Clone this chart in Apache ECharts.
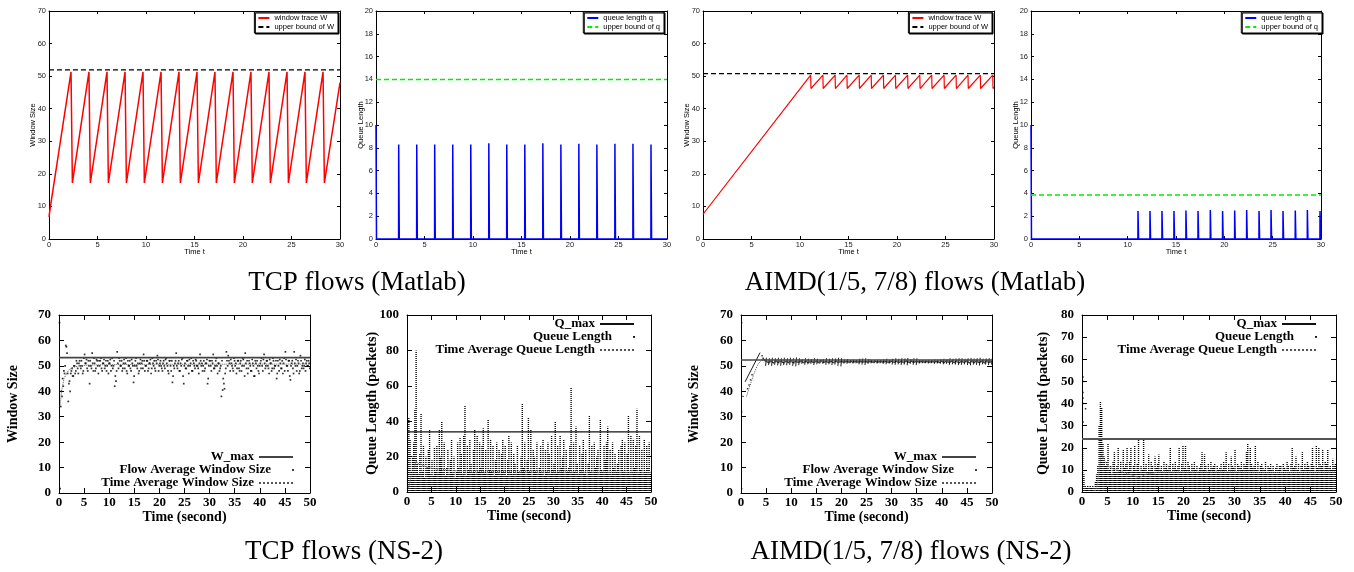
<!DOCTYPE html>
<html><head><meta charset="utf-8">
<script src="https://cdn.jsdelivr.net/npm/echarts@6/dist/echarts.min.js"></script>
<style>html,body{margin:0;padding:0;background:#fff}#c{width:1354px;height:572px}</style>
</head><body><div id="c"></div>
<script>
// ================= DATA =================
// axis ranges [min, max, interval]
const matlabTimeRange = [0, 30, 5];
const matlabWRange = [0, 70, 10];
const matlabQRange = [0, 20, 2];
const nsTimeRange = [0, 50, 5];
const nsWRange = [0, 70, 10];
const nsTcpQRange = [0, 100, 20];
const nsAimdQRange = [0, 80, 10];

const captions = ['TCP flows (Matlab)', 'AIMD(1/5, 7/8) flows (Matlab)', 'TCP flows (NS-2)', 'AIMD(1/5, 7/8) flows (NS-2)'];

// --- Panel 1: TCP Matlab window ---
const matlabTcpWStart = [[0, 6.8], [0.15, 10]];
const matlabTcpWPeakT = [2.27, 4.12, 5.98, 7.84, 9.69, 11.55, 13.40, 15.26, 17.11, 18.97, 20.82, 22.68, 24.54, 26.39, 28.25];
const matlabTcpWTroughT = [2.41, 4.26, 6.12, 7.98, 9.83, 11.69, 13.54, 15.40, 17.25, 19.11, 20.96, 22.82, 24.68, 26.53, 28.39];
const matlabTcpWPeak = 51.3, matlabTcpWTrough = 17.2;
const matlabTcpWEnd = [30, 48];
const matlabTcpWBound = 51.9;

// --- Panel 2: TCP Matlab queue ---
const matlabTcpQStart = 10;
const matlabTcpQSpikeT = [2.34, 4.20, 6.05, 7.91, 9.77, 11.63, 13.48, 15.34, 17.20, 19.06, 20.91, 22.77, 24.63, 26.49, 28.35];
const matlabTcpQSpikeV = [8.3, 8.3, 8.3, 8.3, 8.3, 8.4, 8.3, 8.3, 8.4, 8.3, 8.35, 8.3, 8.35, 8.35, 8.3];
const matlabTcpQBound = 14;

// --- Panel 3: AIMD Matlab window ---
const matlabAimdWStart = [[0, 7.6]];
const matlabAimdWPeakT = [11.10, 12.36, 13.62, 14.84, 16.10, 17.34, 18.60, 19.84, 21.10, 22.35, 23.58, 24.85, 26.09, 27.32, 28.59, 29.87];
const matlabAimdWTroughT = [11.13, 12.39, 13.65, 14.87, 16.13, 17.37, 18.63, 19.87, 21.13, 22.38, 23.61, 24.88, 26.12, 27.35, 28.62, 29.90];
const matlabAimdWPeak = 50.3, matlabAimdWTrough = 46.2;
const matlabAimdWEnd = [30, 46.6];
const matlabAimdWBound = 50.8;

// --- Panel 4: AIMD Matlab queue ---
const matlabAimdQStart = 10;
const matlabAimdQSpikeT = [11.07, 12.31, 13.55, 14.79, 16.03, 17.28, 18.55, 19.82, 21.07, 22.31, 23.59, 24.83, 26.07, 27.34, 28.59, 29.90];
const matlabAimdQSpikeV = [2.45, 2.45, 2.45, 2.45, 2.5, 2.45, 2.55, 2.45, 2.5, 2.55, 2.45, 2.55, 2.45, 2.5, 2.55, 2.45];
const matlabAimdQBound = 3.85;

// --- Panel 5: TCP NS-2 window (samples every 0.25 s, two interleaved sets) ---
const nsSampleStep = 0.25;
const tcpWa = [67,34,38,42, 47,58,55,36, 44,47,49,46, 50,48,51,47, 52,49,50,48, 54.5,51,49,52, 43,50,55,48, 51,49,52,47, 50,53,48,51, 49,52,50,47,
  51,48,53,50, 42,44,55.5,49, 52,50,48,51, 49,53,47,50, 52,48,51,43.5, 50,53,49,47, 51,49,52,54.5, 48,50,52,49, 51,47,53,50, 49,52,54,48,
  51,50,48,52, 49,53,50,47, 52,48,43.5,50, 51,55,49,52, 48,50,53,43, 51,49,52,47, 50,53,48,51, 49,52,50,47, 54.5,50,48,52, 49,51,43,50,
  52,48,51,49, 50,53,47,51, 49,38,40.5,43, 47,55.5,50,52, 48,51,49,53, 50,47,52,49, 51,48,53,50, 55,49,47,52, 50,48,51,46, 52,49,50,47,
  51,53,48,54.5, 49,52,50,47, 51,48,53,49, 50,45,52,48, 51,49,47,53, 55.5,50,48,52, 44.5,51,49,55.5, 50,48,52,47, 54,49,51,50, 48,52,50,51];
const tcpWb = [1.7,40,45,48, 50,57.5,47,43, 40,48,46,50, 47,52,49,51, 50,52,47,53, 51,52.5,48,50, 52,49,51,53, 48,52.5,50,52, 52,49,51,52.5, 50,48,52,51,
  52.5,50,49,52, 46,48,51,53, 50,52,49,52.5, 51,48,52,50, 49,52.5,50,46, 52,50,51,48, 52.5,51,49,52, 50,52,48,51, 52.5,49,51,52, 48,51,52.5,50,
  52,49,51,50, 52.5,51,48,52, 50,52,46,49, 52,50,51,48, 51,52.5,46,50, 49,52,50,52.5, 51,48,52,50, 52.5,50,49,51, 52,51,50,48, 51,52.5,45,52,
  50,52,54.5,49, 52,50,51,48, 50,52,45,41, 49,52,54,51, 52.5,50,48,52, 51,49,52,48, 52,50,52.5,46, 51,52,49,51, 48,52.5,50,46, 51,52,48,50,
  52,50,52.5,51, 50,52,49,52.5, 51,49,52,50, 52,47,50,52.5, 49,52,51,48, 52.5,50,52,46, 50,52,47,51, 52.5,50,51,48, 52,50,49,52.5, 51,50,52,49];
const tcpWOffsetA = 0.1, tcpWOffsetB = 0.22;
const tcpWMax = 53.2;
const tcpWTimeAvg = [[0.2,34],[0.5,40],[1,45],[1.5,47],[2,48.5],[3,49.5],[4,50],[6,50.3],[10,50.5],[20,50.6],[50,50.7]];

// --- Panel 6: TCP NS-2 queue (column heights every 0.25 s) ---
const tcpQHeights = [18,42,30,12, 20,28,47,80, 16,10,22,44, 12,26,8,20, 14,24,35,10, 18,9,25,12, 26,11,35,20, 40,12,28,9, 14,24,10,18, 30,11,20,8,
  12,28,14,31, 22,10,32,49, 9,26,13,30, 16,11,24,35, 10,32,12,28, 14,26,36,11, 24,10,41,13, 30,12,26,9, 18,28,11,24, 10,22,30,12,
  26,9,18,32, 12,28,10,22, 16,10,26,12, 11,20,50,14, 28,10,18,42, 12,35,9,24, 20,12,28,10, 14,26,11,30, 9,24,12,28, 22,10,32,13,
  16,40,11,26, 12,32,14,20, 30,10,24,12, 14,26,59,11, 28,12,37,16, 10,26,13,22, 30,11,24,9, 16,43,12,26, 11,28,14,20, 24,10,41,13,
  12,26,18,28, 37,11,24,10, 28,14,22,12, 16,24,10,26, 30,12,28,11, 22,43,10,32, 12,30,14,26, 47,11,32,13, 24,10,30,12, 26,14,28,11];
const tcpQMax = 34;
const tcpQTimeAvg = [[0.3,2],[0.8,8],[1.4,13],[1.9,17.5],[2.2,16],[2.5,17],[3,15.5],[4,14],[6,13],[10,12],[20,11.5],[50,11]];

// --- Panel 7: AIMD NS-2 window ---
const aimdWPoints = [[0.13,67],[0.13,1.7],[0.13,32],[0.4,38],[1.3,41],[1.6,42.5],[1.9,44.5],[2.2,46.5],[4.2,54],[4.4,53]];
const aimdWBaseStart = 4.5;
const aimdWBase = [52.6,52.2,51.8,51.5,51.3,51.6,51.9,51.4,51.2,51.6,51.9,51.5,51.3,51.7,51.9,51.4,51.2,51.6,51.8,51.5,
  51.3,51.7,51.9,51.4,51.2,51.6,51.8,51.5,51.4,51.7,51.9,51.5,51.3,51.6,51.8,51.4,51.3,51.6,51.8,51.5,
  51.4,51.6,51.8,51.5,51.3,51.7,51.9,51.5,51.4,51.6,51.8,51.5,51.4,51.6,51.8,51.4,51.3,51.7,51.9,51.5,
  51.5,51.6,51.7,51.6,51.5,51.6,51.7,51.6,51.5,51.6,51.7,51.5,51.6,51.7,51.6,51.5,51.6,51.7,51.6,51.5,
  51.6,51.7,51.6,51.5,51.6,51.7,51.6,51.5,51.6,51.7,51.6,51.5,51.6,51.7,51.6,51.5,51.6,51.7,51.6,51.5,
  51.4,51.6,51.8,51.5,51.4,51.7,51.8,51.5,51.4,51.6,51.8,51.5,51.3,51.7,51.9,51.5,51.4,51.6,51.8,51.5,
  51.5,51.6,51.7,51.6,51.5,51.6,51.7,51.6,51.5,51.6,51.7,51.6,51.5,51.6,51.7,51.6,51.5,51.6,51.7,51.6,
  51.4,51.6,51.8,51.5,51.3,51.7,51.9,51.5,51.4,51.6,51.8,51.5,51.3,51.7,51.9,51.4,51.3,51.6,51.8,51.5,
  51.3,51.7,51.9,51.4,51.2,51.6,51.9,51.5,51.3,51.7,51.9,51.4,51.3,51.6,51.8,51.5,51.2,51.7,51.9,51.4,
  51.5,51.6];
// window rises: [start t, start W, end t, end W]
const aimdWRamp = [[0.8,43.7,3.8,55.2]];
// short sawtooth strokes: [t, low, high]
const aimdWStrokes = [[4.9,50,53.2],[5.5,50.3,53],[6.1,50,53.2],[6.7,50.4,53],[7.3,50.2,53.2],[7.9,50,53],[8.5,50.3,53.2],[9.1,50.2,53],[9.7,50.4,53.2],[10.3,50,53],
  [10.9,49.8,53.3],[11.5,50.3,53],[12.1,50.8,52.6],[12.7,50.4,53],[13.3,50.6,52.8],[13.9,50.8,52.6],[14.5,50.3,53],[15.1,50.6,52.8],[15.7,50.9,52.4],[16.3,50.8,52.6],
  [16.9,50.4,53],[17.5,50.6,52.8],[18.1,50.3,53],[18.7,50.5,52.9],[19.3,50,53.2],[19.9,49.8,53],[20.5,50.9,52.5],[21.1,50.8,52.6],[21.7,51,52.3],[22.3,50.9,52.4],
  [22.9,51,52.3],[23.5,50.6,52.8],[24.1,50.5,52.9],[24.7,50.3,53],[25.3,50.8,52.6],[25.9,51,52.3],[26.5,51,52.3],[27.1,50.9,52.4],[27.7,51,52.3],[28.3,50.8,52.5],
  [28.9,50.6,52.8],[29.5,50.9,52.4],[30.1,50.5,52.8],[30.7,50.4,53],[31.3,50.6,52.8],[31.9,50.3,53],[32.5,50.5,52.9],[33.1,50.2,53.1],[33.7,50.8,52.6],[34.3,50.4,53],
  [34.9,50.3,53],[35.5,50.9,52.4],[36.1,51,52.3],[36.7,51,52.3],[37.3,50.9,52.4],[37.9,51,52.3],[38.5,50.8,52.5],[39.1,50.9,52.4],[39.7,50.8,52.6],[40.3,50.6,52.8],
  [40.9,50.8,52.6],[41.5,50.4,53],[42.1,50.6,52.8],[42.7,50.5,52.9],[43.3,50.3,53],[43.9,50.4,53],[44.5,50.6,52.8],[45.1,50.3,53],[45.7,50.2,53.1],[46.3,50.5,52.9],
  [46.9,50.4,53],[47.5,50.1,53.2],[48.1,50.6,52.8],[48.7,50.5,52.9],[49.3,50.3,53],[49.9,50.5,52.9]];
const aimdWMax = 52.3;
const aimdWTimeAvg = [[1.1,38],[1.5,40.5],[2,43.5],[2.5,46.5],[3,49],[3.5,51],[4.2,52.3],[5,51.8],[10,51.6],[50,51.6]];

// --- Panel 8: AIMD NS-2 queue (column heights every 0.25 s) ---
const aimdQHeights = [20,8,3,2, 3,2,3,2, 3,2,5,8, 12,30,41,38, 22,16,12,14, 22,10,12,8, 14,18,9,12, 20,10,14,9, 19,11,13,20, 10,14,20,9,
  12,21,10,13, 24,9,12,10, 24,11,13,9, 17,10,14,12, 9,16,11,13, 17,10,12,9, 14,11,13,10, 12,20,9,13, 11,14,10,12, 20,9,13,21,
  11,21,10,14, 12,9,13,11, 14,10,12,9, 11,13,18,10, 17,12,9,13, 10,14,11,12, 13,9,12,10, 11,13,10,14, 12,18,9,13, 10,16,12,11,
  19,9,13,12, 11,14,10,13, 12,18,22,10, 20,13,11,12, 21,10,14,9, 12,13,11,10, 14,9,12,11, 13,10,12,9, 11,13,10,12, 12,9,13,11,
  10,14,12,9, 13,20,11,12, 16,10,13,9, 12,18,10,13, 11,14,12,10, 13,20,12,9, 21,11,20,13, 12,19,10,14, 13,19,11,12, 10,15,12,13];
const aimdQOutliers = [[0.2,52],[0.2,50],[0.2,45],[0.2,42.5],[0.2,40],[0.7,37.6],[0.2,31.6]];
const aimdQMax = 24;
const aimdQTimeAvg = [[2.6,0.5],[3.0,3],[3.4,10],[3.8,17],[4.3,15],[5,12],[6,10.5],[8,9],[10,7.5],[11.3,6.5],[12.5,8],[15,9],[20,9],[30,9],[40,8.8],[50,9]];

// ================= BUILD =================
const grids = [
  {left:49, top:11, width:291, height:228},
  {left:376, top:11, width:291, height:228},
  {left:703, top:11, width:291, height:228},
  {left:1031, top:11, width:290, height:228},
  {left:59, top:315, width:251, height:178},
  {left:407, top:315, width:244, height:177},
  {left:741, top:315, width:251, height:178},
  {left:1082, top:315, width:254, height:177}
].map(g => Object.assign({outerBoundsMode:'none', containLabel:false}, g));

const matlabSt = {font:'Liberation Sans', size:7.5, weight:'normal', color:'#222', tick:3, nameSize:7.5, xMargin:2, yMargin:3};
const gnuSt = {font:'Liberation Serif', size:13, weight:'bold', color:'#000', tick:5, nameSize:14, xMargin:3, yMargin:8};

const xAxes = [], yAxes = [];
function mkAxes(gi, xr, yr, st, xName, yName, xGap, yGap) {
  const base = (pos) => ({
    type:'value', gridIndex:gi, position:pos,
    axisLine:{show:true, onZero:false, lineStyle:{color:'#000', width:1}},
    axisTick:{show:true, inside:true, length:st.tick, lineStyle:{color:'#000', width:1}},
    splitLine:{show:false}, nameMoveOverlap:false
  });
  const lab = (m) => ({show:true, margin:m, fontFamily:st.font, fontSize:st.size, fontWeight:st.weight, color:st.color});
  const nts = {fontFamily:st.font, fontSize:st.nameSize, fontWeight:st.weight, color:'#000'};
  const xi = xAxes.length, yi = yAxes.length;
  xAxes.push(Object.assign(base('bottom'), {min:xr[0], max:xr[1], interval:xr[2], axisLabel:lab(st.xMargin), name:xName, nameLocation:'middle', nameGap:xGap, nameTextStyle:nts}));
  xAxes.push(Object.assign(base('top'), {min:xr[0], max:xr[1], interval:xr[2], axisLabel:{show:false}}));
  yAxes.push(Object.assign(base('left'), {min:yr[0], max:yr[1], interval:yr[2], axisLabel:lab(st.yMargin), name:yName, nameLocation:'middle', nameGap:yGap, nameTextStyle:nts}));
  yAxes.push(Object.assign(base('right'), {min:yr[0], max:yr[1], interval:yr[2], axisLabel:{show:false}}));
  return {xAxisIndex:xi, yAxisIndex:yi};
}

const A = [
  mkAxes(0, matlabTimeRange, matlabWRange, matlabSt, 'Time t', 'Window Size', 9, 12),
  mkAxes(1, matlabTimeRange, matlabQRange, matlabSt, 'Time t', 'Queue Length', 9, 11),
  mkAxes(2, matlabTimeRange, matlabWRange, matlabSt, 'Time t', 'Window Size', 9, 12),
  mkAxes(3, matlabTimeRange, matlabQRange, matlabSt, 'Time t', 'Queue Length', 9, 11),
  mkAxes(4, nsTimeRange, nsWRange, gnuSt, 'Time (second)', 'Window Size', 17, 39),
  mkAxes(5, nsTimeRange, nsTcpQRange, gnuSt, 'Time (second)', 'Queue Length (packets)', 17, 28),
  mkAxes(6, nsTimeRange, nsWRange, gnuSt, 'Time (second)', 'Window Size', 17, 40),
  mkAxes(7, nsTimeRange, nsAimdQRange, gnuSt, 'Time (second)', 'Queue Length (packets)', 17, 32)
];

function saw(start, peakT, troughT, peak, trough, end) {
  const d = start.map(p => p.slice());
  for (let i = 0; i < peakT.length; i++) { d.push([peakT[i], peak]); d.push([troughT[i], trough]); }
  d.push(end.slice());
  return d;
}
function spikes(startV, ts, vs, tEnd) {
  const d = [[0, startV], [0.05, 0]];
  ts.forEach((t, i) => { d.push([t - 0.01, 0], [t, vs[i]], [t + 0.06, 0]); });
  d.push([tEnd, 0]);
  return d;
}
const hline = (v, x0, x1) => [[x0, v], [x1, v]];
const stepSeries = (vals, off) => vals.map((v, i) => [nsSampleStep * i + off, v]);

const series = [];
function addLine(ai, name, data, color, width, type, z) {
  series.push(Object.assign({type:'line', name, data, symbol:'none', showSymbol:false, silent:true,
    lineStyle:{color, width, type:type || 'solid'}, itemStyle:{color}, z:z || 2}, ai));
}
function addDots(ai, name, data, size) {
  series.push(Object.assign({type:'scatter', name, data, symbol:'rect', symbolSize:size || 1.6, silent:true,
    itemStyle:{color:'#000'}, z:1}, ai));
}
function addColumns(ai, name, heights) {
  series.push(Object.assign({type:'bar', name, data: heights.map((h, i) => [nsSampleStep * (i + 0.5), h]),
    barWidth:1.4, silent:true, z:1,
    itemStyle:{color:'rgba(0,0,0,0)', decal:{symbol:'rect', symbolSize:1, color:'#000', dashArrayX:[1,0], dashArrayY:[1,1], rotation:0}}}, ai));
}
function addSegments(ai, segs) {
  series.push(Object.assign({type:'lines', coordinateSystem:'cartesian2d', silent:true, z:1,
    data: segs, lineStyle:{color:'#000', width:0.9, opacity:1, curveness:0}}, ai));
}

const RED = '#ff0000', BLUE = '#0000ff', GREEN = '#00ee00', DASH = [5, 3];

// Panel 1
addLine(A[0], 'window trace W', saw(matlabTcpWStart, matlabTcpWPeakT, matlabTcpWTroughT, matlabTcpWPeak, matlabTcpWTrough, matlabTcpWEnd), RED, 1.5);
addLine(A[0], 'upper bound of W', hline(matlabTcpWBound, 0, 30), '#000', 1.3, DASH);
// Panel 2
addLine(A[1], 'queue length q', spikes(matlabTcpQStart, matlabTcpQSpikeT, matlabTcpQSpikeV, 30), BLUE, 1.5);
addLine(A[1], 'upper bound of q', hline(matlabTcpQBound, 0, 30), GREEN, 1.5, DASH);
// Panel 3
addLine(A[2], 'window trace W', saw(matlabAimdWStart, matlabAimdWPeakT, matlabAimdWTroughT, matlabAimdWPeak, matlabAimdWTrough, matlabAimdWEnd), RED, 1.2);
addLine(A[2], 'upper bound of W', hline(matlabAimdWBound, 0, 30), '#000', 1.3, DASH);
// Panel 4
addLine(A[3], 'queue length q', spikes(matlabAimdQStart, matlabAimdQSpikeT, matlabAimdQSpikeV, 30), BLUE, 1.5);
addLine(A[3], 'upper bound of q', hline(matlabAimdQBound, 0, 30), GREEN, 1.5, DASH);
// Panel 5
addDots(A[4], 'Flow Average Window Size', stepSeries(tcpWa, tcpWOffsetA).concat(stepSeries(tcpWb, tcpWOffsetB)), 1.7);
addLine(A[4], 'Time Average Window Size', tcpWTimeAvg, '#555', 1, 'dotted');
addLine(A[4], 'W_max', hline(tcpWMax, 0, 50), '#444', 1.8, 'solid', 3);
// Panel 6
addColumns(A[5], 'Queue Length', tcpQHeights);
addLine(A[5], 'Time Average Queue Length', tcpQTimeAvg, '#555', 1, 'dotted');
addLine(A[5], 'Q_max', hline(tcpQMax, 0, 50), '#111', 1.3, 'solid', 3);
// Panel 7
addDots(A[6], 'Flow Average Window Size', aimdWPoints.concat(stepSeries(aimdWBase, aimdWBaseStart)), 1.4);
addSegments(A[6], aimdWRamp.map(r => ({coords:[[r[0], r[1]], [r[2], r[3]]]}))
  .concat(aimdWStrokes.map(s => ({coords:[[s[0], s[1]], [s[0] + 0.15, s[2]]]}))));
addLine(A[6], 'Time Average Window Size', aimdWTimeAvg, '#555', 1, 'dotted');
addLine(A[6], 'W_max', hline(aimdWMax, 0, 50), '#444', 1.6, 'solid', 3);
// Panel 8
addColumns(A[7], 'Queue Length', aimdQHeights);
addDots(A[7], 'Queue Length', aimdQOutliers, 1.5);
addLine(A[7], 'Time Average Queue Length', aimdQTimeAvg, '#777', 1, 'dotted');
addLine(A[7], 'Q_max', hline(aimdQMax, 0, 50), '#555', 2, 'solid', 3);

// ---------- legends ----------
const legends = [];
function matlabLegend(names, right) {
  legends.push({data:names, orient:'vertical', align:'left', right, top:12, itemWidth:11, itemHeight:5, itemGap:1,
    padding:[2,4,2,3], borderColor:'#000', borderWidth:1, backgroundColor:'#fff',
    shadowColor:'#000', shadowOffsetX:1, shadowOffsetY:1, shadowBlur:0, selectedMode:false,
    itemStyle:{opacity:0},
    textStyle:{fontFamily:'Liberation Sans', fontSize:7.5, color:'#000'}});
}
matlabLegend(['window trace W', 'upper bound of W'], 1016);
matlabLegend(['queue length q', 'upper bound of q'], 690);
matlabLegend(['window trace W', 'upper bound of W'], 362);
matlabLegend(['queue length q', 'upper bound of q'], 32);

function gnuLegend(item, right, centerY, isDot) {
  const h = isDot ? 2 : 10;
  const lg = {data:[item], orient:'horizontal', align:'right', right, top:centerY - 8, padding:0,
    itemWidth:34, itemHeight:h, selectedMode:false,
    textStyle:{fontFamily:'Liberation Serif', fontSize:13, fontWeight:'bold', color:'#000', lineHeight:16}};
  if (!isDot) lg.itemStyle = {opacity:0};
  legends.push(lg);
}
const dotItem = (name) => ({name, icon:'circle', itemStyle:{color:'#000', opacity:1}});
gnuLegend('W_max', 1060, 457);
gnuLegend(dotItem('Flow Average Window Size'), 1060, 470, true);
gnuLegend('Time Average Window Size', 1060, 483);
gnuLegend('Q_max', 719, 324);
gnuLegend(dotItem('Queue Length'), 719, 337, true);
gnuLegend('Time Average Queue Length', 719, 350);
gnuLegend('W_max', 377, 457);
gnuLegend(dotItem('Flow Average Window Size'), 377, 470, true);
gnuLegend('Time Average Window Size', 377, 483);
gnuLegend('Q_max', 37, 324);
gnuLegend(dotItem('Queue Length'), 37, 337, true);
gnuLegend('Time Average Queue Length', 37, 350);

// ---------- captions ----------
const capPos = [[357, 283], [915, 283], [344, 552], [911, 552]];
const graphic = captions.map((t, i) => ({type:'text', x:capPos[i][0], y:capPos[i][1], silent:true,
  style:{text:t, textAlign:'center', textVerticalAlign:'middle', fontFamily:'Liberation Serif', fontSize:27, fill:'#000'}}));

const chart = echarts.init(document.getElementById('c'), null, {renderer:'canvas', width:1354, height:572});
chart.setOption({
  animation:false,
  backgroundColor:'#fff',
  grid:grids, xAxis:xAxes, yAxis:yAxes, series, legend:legends, graphic,
  tooltip:{show:false}
});
</script>
</body></html>
